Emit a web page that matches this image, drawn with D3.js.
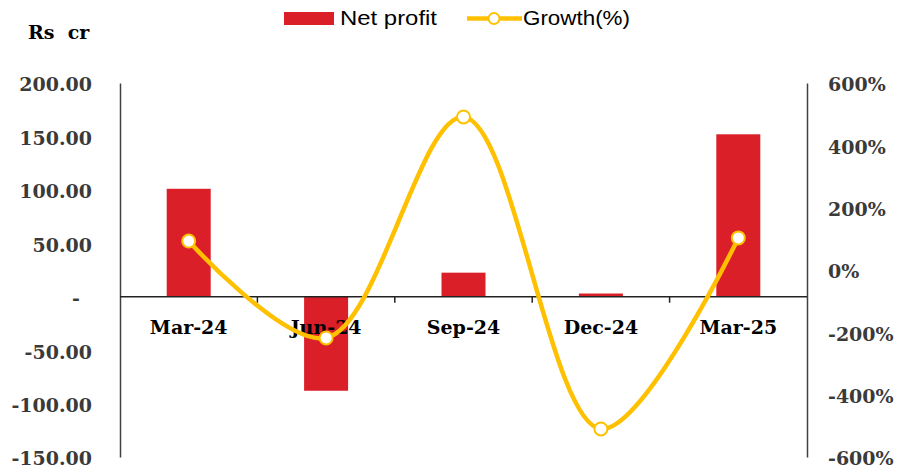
<!DOCTYPE html>
<html>
<head>
<meta charset="utf-8">
<script src="https://cdn.jsdelivr.net/npm/d3@7/dist/d3.min.js"></script>
<style>
  body { margin: 0; background: #fff; }
  #chart { width: 904px; height: 471px; }
</style>
</head>
<body>
<div id="chart"></div>
<script>
// 数据
var quarters = ["Mar-24", "Jun-24", "Sep-24", "Dec-24", "Mar-25"];
var netProfit = [101, -88, 22.5, 3, 152];
var growth = [93, -218, 491, -510, 103];
var leftTicks = [-150, -100, -50, 0, 50, 100, 150, 200];
var rightTicks = [-600, -400, -200, 0, 200, 400, 600];

var W = 904, H = 471;
var plotL = 120, plotR = 807, plotT = 83, plotB = 457;
var serif = "'DejaVu Serif', 'Liberation Serif', serif";
var sans = "'Liberation Sans', Arial, sans-serif";

var svg = d3.select("#chart").append("svg")
    .attr("width", W).attr("height", H);

/*比例尺*/
var x = d3.scaleBand().domain(quarters).range([plotL, plotR]);
var yL = d3.scaleLinear().domain([-150, 200]).range([plotB, plotT]);
var yR = d3.scaleLinear().domain([-600, 600]).range([plotB, plotT]);

/*柱子*/
var barW = 44;
svg.append("g").selectAll("rect").data(quarters).enter().append("rect")
    .attr("x", function (d) { return x(d) + x.bandwidth() / 2 - barW / 2; })
    .attr("y", function (d, i) { return yL(Math.max(0, netProfit[i])); })
    .attr("width", barW)
    .attr("height", function (d, i) { return Math.abs(yL(netProfit[i]) - yL(0)); })
    .attr("fill", "#DA1F28");

/*左轴*/
var yAxisL = d3.axisLeft(yL).tickValues(leftTicks).tickSize(0).tickPadding(28)
    .tickFormat(function (d) { return d === 0 ? "-" : d.toFixed(2); });
var gL = svg.append("g").attr("transform", "translate(" + plotL + ",0)").call(yAxisL);
gL.select(".domain").attr("stroke", "#404040").attr("stroke-width", 1.5);
gL.selectAll("text").attr("font-family", serif).attr("font-weight", "bold")
    .attr("font-size", 19).attr("fill", "#3a3a3a")
    .attr("dy", "0.42em");
gL.selectAll("text").filter(function (d) { return d === 0; }).attr("dx", -12);

/*右轴*/
var yAxisR = d3.axisRight(yR).tickValues(rightTicks).tickSize(0).tickPadding(21)
    .tickFormat(function (d) { return d + "%"; });
var gR = svg.append("g").attr("transform", "translate(" + plotR + ",0)").call(yAxisR);
gR.select(".domain").attr("stroke", "#404040").attr("stroke-width", 1.5);
gR.selectAll("text").attr("font-family", serif).attr("font-weight", "bold")
    .attr("font-size", 19).attr("fill", "#3a3a3a").attr("dy", "0.42em");

/*x轴*/
var xAxis = d3.axisBottom(x).tickSize(0).tickPadding(24);
var gX = svg.append("g").attr("transform", "translate(0," + yL(0) + ")").call(xAxis);
gX.select(".domain").remove();
gX.selectAll("text").attr("font-family", serif).attr("font-weight", "bold")
    .attr("font-size", 19).attr("fill", "#000");
svg.append("line").attr("x1", plotL).attr("x2", plotR)
    .attr("y1", yL(0)).attr("y2", yL(0))
    .attr("stroke", "#222").attr("stroke-width", 1.5);
svg.append("g").selectAll("line").data(quarters.slice(1)).enter().append("line")
    .attr("x1", function (d) { return x(d); }).attr("x2", function (d) { return x(d); })
    .attr("y1", yL(0)).attr("y2", yL(0) + 6)
    .attr("stroke", "#222").attr("stroke-width", 1.5);

/*增长率折线*/
var line = d3.line()
    .x(function (d, i) { return x(quarters[i]) + x.bandwidth() / 2; })
    .y(function (d) { return yR(d); })
    .curve(d3.curveCatmullRom.alpha(0.5));
svg.append("path").datum(growth).attr("d", line)
    .attr("fill", "none").attr("stroke", "#FFC000").attr("stroke-width", 4.5);
svg.append("g").selectAll("circle").data(growth).enter().append("circle")
    .attr("cx", function (d, i) { return x(quarters[i]) + x.bandwidth() / 2; })
    .attr("cy", function (d) { return yR(d); })
    .attr("r", 6.5).attr("fill", "#fff").attr("stroke", "#FFC000").attr("stroke-width", 2);

/*单位*/
svg.append("text").attr("x", 28).attr("y", 39).text("Rs  cr")
    .attr("font-family", serif).attr("font-weight", "bold").attr("font-size", 19)
    .attr("fill", "#000").attr("xml:space", "preserve").style("white-space", "pre");

/*图例*/
var lg = svg.append("g");
lg.append("rect").attr("x", 284).attr("y", 12).attr("width", 50).attr("height", 13).attr("fill", "#DA1F28");
lg.append("text").attr("x", 340).attr("y", 25).text("Net profit")
    .attr("font-family", sans).attr("font-size", 20).attr("fill", "#000")
    .attr("textLength", 97).attr("lengthAdjust", "spacingAndGlyphs");
lg.append("line").attr("x1", 467).attr("x2", 522).attr("y1", 18.5).attr("y2", 18.5)
    .attr("stroke", "#FFC000").attr("stroke-width", 4.5);
lg.append("circle").attr("cx", 494).attr("cy", 18.5).attr("r", 5.5)
    .attr("fill", "#fff").attr("stroke", "#FFC000").attr("stroke-width", 2);
lg.append("text").attr("x", 523).attr("y", 25).text("Growth(%)")
    .attr("font-family", sans).attr("font-size", 20).attr("fill", "#000")
    .attr("textLength", 107).attr("lengthAdjust", "spacingAndGlyphs");
</script>
</body>
</html>
